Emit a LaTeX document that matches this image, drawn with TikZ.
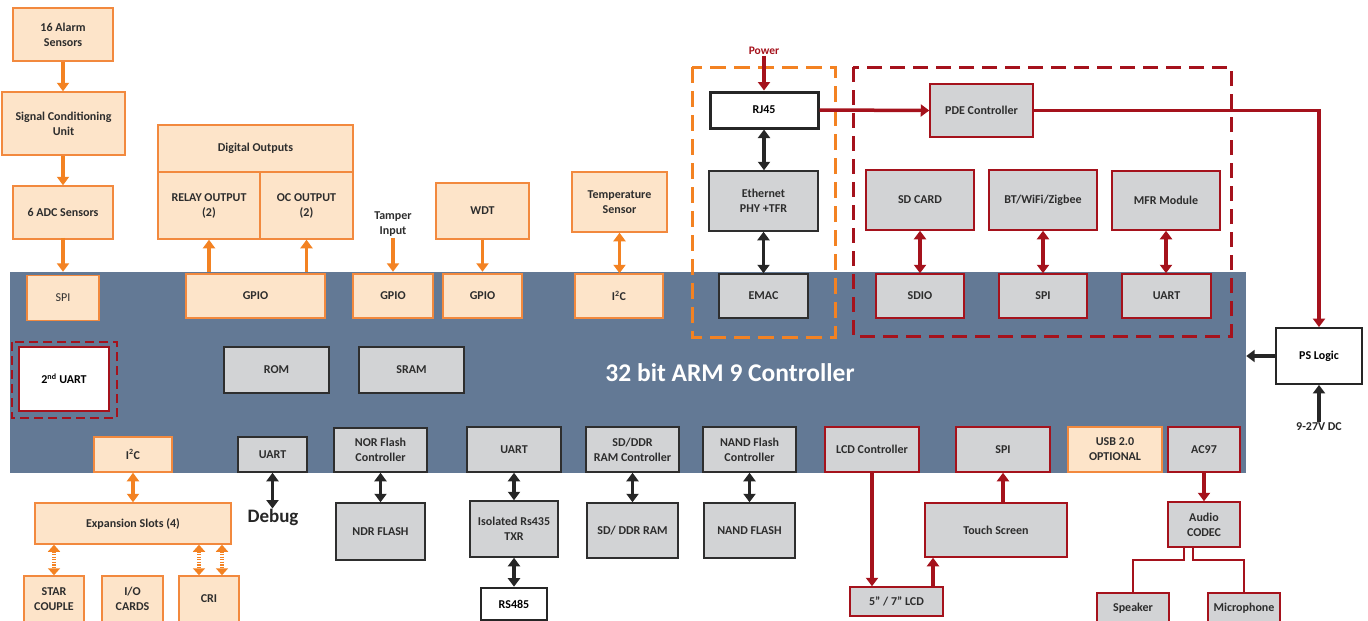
\documentclass[tikz,border=0pt]{standalone}
\usepackage{fontspec}
\setmainfont{Carlito}
\usetikzlibrary{arrows.meta}
\definecolor{orgF}{RGB}{253,228,201}
\definecolor{orgD}{RGB}{242,137,62}
\definecolor{orgA}{RGB}{243,130,34}
\definecolor{grayF}{RGB}{210,211,213}
\definecolor{redD}{RGB}{165,18,28}
\definecolor{cpuB}{RGB}{99,121,149}
\definecolor{txt}{RGB}{45,45,45}
\tikzset{
  bx/.style={rectangle, inner sep=0pt, align=center, text=txt,
    font=\fontsize{12}{15}\selectfont\bfseries},
  sz/.style 2 args={minimum width=#1pt, minimum height=#2pt},
  obox/.style={bx, draw=orgD, fill=orgF, line width=1.5pt},
  gbox/.style={bx, draw=black!82, fill=grayF, line width=1.5pt},
  rbox/.style={bx, draw=redD, fill=grayF, line width=1.5pt},
  wbox/.style={bx, draw=black!85, fill=white, line width=3pt, text=black},
  lbl/.style={inner sep=1pt, align=center, text=txt, font=\fontsize{12}{15}\selectfont\bfseries},
  tip/.tip={Triangle[width=12pt,length=8.5pt]},
  oarr/.style={draw=orgA, line width=3.5pt, -tip},
  oarrb/.style={draw=orgA, line width=3.5pt, tip-tip},
  odot/.style={draw=orgA, line width=4pt, dash pattern=on 1.3pt off 1.3pt,
    {Triangle[width=12pt,length=7pt]}-{Triangle[width=12pt,length=7pt]}},
  barr/.style={draw=black!85, line width=3.5pt, -tip},
  barrb/.style={draw=black!85, line width=3.5pt, tip-tip},
  rarr/.style={draw=redD, line width=3.5pt, -tip},
  rarrb/.style={draw=redD, line width=3.5pt, tip-tip},
  rline/.style={draw=redD, line width=2pt},
  odash/.style={draw=orgA, line width=3pt, dash pattern=on 16pt off 8pt},
  rdash/.style={draw=redD, line width=3pt, dash pattern=on 15pt off 8pt},
  rdashs/.style={draw=redD, line width=2.2pt, dash pattern=on 9pt off 5pt},
}
\begin{document}
\begin{tikzpicture}[x=1pt,y=-1pt]
\useasboundingbox (0,0) rectangle (1368,621);
\clip (0,0) rectangle (1368,621);

% main controller
\node[rectangle, fill=cpuB, inner sep=0pt, sz={1236}{201}] (cpu) at (628,372.5) {};
\node[font=\fontsize{25.5}{28}\selectfont\bfseries, text=white] (title) at (730,373) {32 bit ARM 9 Controller};

% dashed groups
\draw[odash] (692,67) rectangle (835,337);
\draw[rdash] (853,67) rectangle (1231,336);
\draw[rdashs] (12,342) rectangle (117,418);

% left sensor chain
\node[obox, sz={100}{53}] (alarm) at (63,34.5) {16 Alarm\\Sensors};
\node[obox, sz={123}{63}] (sig) at (63.5,123.5) {Signal Conditioning\\Unit};
\node[obox, sz={100}{53}] (adc) at (63,212.5) {6 ADC Sensors};
\node[obox, sz={72}{45}, font=\fontsize{12}{15}\selectfont] (spi1) at (63,298) {SPI};

% digital outputs
\node[obox, sz={195}{47}] (digout) at (255.5,148.5) {Digital Outputs};
\node[obox, sz={102}{67}] (relay) at (209,205.5) {RELAY OUTPUT\\(2)};
\node[obox, sz={93}{67}] (oc) at (306.5,205.5) {OC OUTPUT\\(2)};
\node[obox, sz={139}{44}] (gpio1) at (255.5,296) {GPIO};
\node[obox, sz={80}{44}] (gpio2) at (393,296) {GPIO};
\node[obox, sz={79}{44}] (gpio3) at (482.5,296) {GPIO};
\node[obox, sz={93}{56}] (wdt) at (482.5,211) {WDT};
\node[lbl] (tamper) at (393,224) {Tamper\\Input};
\node[obox, sz={95}{60}] (temp) at (619.5,202) {Temperature\\Sensor};
\node[obox, sz={88}{44}] (i2c1) at (619,296) {I\textsuperscript{2}C};

% ethernet group
\node[lbl, text=redD, font=\fontsize{11.5}{13}\selectfont\bfseries] (power) at (764,51) {Power};
\node[wbox, sz={108}{36}] (rj45) at (764,110) {RJ45};
\node[gbox, sz={109}{60}] (eth) at (763.5,201) {Ethernet\\PHY +TFR};
\node[gbox, sz={89}{44}] (emac) at (763.5,296) {EMAC};

% red group
\node[rbox, sz={103}{53}] (pde) at (981.5,110.5) {PDE Controller};
\node[rbox, sz={108}{60}] (sdcard) at (920,200) {SD CARD};
\node[rbox, sz={108}{60}] (bt) at (1043,200) {BT/WiFi/Zigbee};
\node[rbox, sz={108}{59}] (mfr) at (1166,200.5) {MFR Module};
\node[rbox, sz={88}{44}] (sdio) at (920,296) {SDIO};
\node[rbox, sz={88}{44}] (spi2) at (1043,296) {SPI};
\node[rbox, sz={89}{44}] (uart3) at (1166.5,296) {UART};

% power logic
\node[bx, draw=black!85, fill=white, line width=1.8pt, text=black, sz={86}{56}] (ps) at (1319,356) {PS Logic};
\node[lbl, text=black!85] (dc) at (1319,427) {9-27V DC};

% inner blocks
\node[bx, draw=redD, fill=white, line width=2pt, text=black, sz={90}{64}] (uart2nd) at (64,379) {2\textsuperscript{nd} UART};
\node[gbox, sz={105}{46}] (rom) at (276.5,370) {ROM};
\node[gbox, sz={105}{46}] (sram) at (411.5,370) {SRAM};

% bottom row
\node[obox, sz={78}{35}] (i2c2) at (133,454.5) {I\textsuperscript{2}C};
\node[obox, sz={196}{41}] (exp) at (133,523.5) {Expansion Slots (4)};
\node[obox, sz={60}{46}] (star) at (54,599) {STAR\\COUPLE};
\node[obox, sz={61}{46}] (io) at (132.5,599) {I/O\\CARDS};
\node[obox, sz={60}{46}] (cri) at (209,599) {CRI};

\node[gbox, sz={69}{35}] (uartd) at (272.5,454.5) {UART};
\node[inner sep=0pt, text=black!85, font=\fontsize{19}{21}\selectfont\bfseries] (debug) at (273,517) {Debug};
\node[gbox, sz={93}{44}] (norc) at (380.5,450) {NOR Flash\\Controller};
\node[gbox, sz={89}{57}] (ndr) at (380.5,531.5) {NDR FLASH};
\node[gbox, sz={94}{45}] (uartb) at (514,449.5) {UART};
\node[gbox, sz={88}{56}] (iso) at (514,529) {Isolated Rs435\\TXR};
\node[wbox, line width=2.6pt, sz={66}{32}] (rs485) at (514,604) {RS485};
\node[gbox, sz={93}{45}] (sdc) at (632.5,449.5) {SD/DDR\\RAM Controller};
\node[gbox, sz={91}{55}] (sdr) at (632.5,530.5) {SD/ DDR RAM};
\node[gbox, sz={93}{45}] (nandc) at (749.5,449.5) {NAND Flash\\Controller};
\node[gbox, sz={91}{55}] (nand) at (749.5,530.5) {NAND FLASH};

\node[rbox, sz={94}{45}] (lcdc) at (872,449.5) {LCD Controller};
\node[rbox, sz={94}{45}] (spi3) at (1003,449.5) {SPI};
\node[obox, sz={94}{45}] (usb) at (1115,449.5) {USB 2.0\\OPTIONAL};
\node[rbox, sz={72}{45}] (ac97) at (1204,449.5) {AC97};
\node[rbox, sz={142}{54}] (touch) at (996,530) {Touch Screen};
\node[rbox, sz={93}{29}] (lcd) at (896.5,601.5) {5” / 7” LCD};
\node[rbox, sz={72}{45}] (codec) at (1204,524.5) {Audio\\CODEC};
\node[rbox, sz={72}{30}] (speaker) at (1133,608) {Speaker};
\node[rbox, sz={72}{30}] (mic) at (1244,608) {Microphone};

% helper coordinates
\coordinate (x199) at (199,0);
\coordinate (x222) at (222,0);
\coordinate (x933) at (933,0);
\coordinate (cl1) at (1184,0);
\coordinate (cl2) at (1193,0);
\coordinate (ysplit) at (0,560);

% orange connectors
\draw[oarr] (alarm.south) -- (alarm.south |- sig.north);
\draw[oarr] (adc.north |- sig.south) -- (adc.north);
\draw[oarr] ([yshift=2pt]adc.south) -- (cpu.north -| adc.south);
\draw[oarr] (relay.south |- cpu.north) -- (relay.south);
\draw[oarr] (oc.south |- cpu.north) -- (oc.south);
\draw[oarr] (tamper.south) -- (tamper.south |- cpu.north);
\draw[oarr] (wdt.south) -- (wdt.south |- cpu.north);
\draw[oarrb] (temp.south) -- (temp.south |- i2c1.north);
\draw[oarrb] (i2c2.south) -- (exp.north);
\draw[odot] (star.north |- exp.south) -- (star.north);
\draw[odot] (x199 |- exp.south) -- (x199 |- cri.north);
\draw[odot] (x222 |- exp.south) -- (x222 |- cri.north);

% black connectors
\draw[barrb] (rj45.south) -- (rj45.south |- eth.north);
\draw[barrb] (eth.south) -- (emac.north);
\draw[barrb] (uartd.south) -- (uartd.south |- debug.north);
\draw[barrb] (norc.south) -- (ndr.north);
\draw[barrb] (uartb.south) -- (iso.north);
\draw[barrb] (iso.south) -- (rs485.north);
\draw[barrb] (sdc.south) -- (sdr.north);
\draw[barrb] (nandc.south) -- (nand.north);
\draw[barr] (ps.west) -- (ps.west -| cpu.east);
\draw[barr] (dc.north) -- (ps.south);

% red connectors
\draw[rarr] (power.south) -- (rj45.north);
\draw[rarr] (rj45.east) -- (pde.west);
\draw[rarr] (pde.east) -| (ps.north);
\draw[rarrb] (sdcard.south) -- (sdio.north);
\draw[rarrb] (bt.south) -- (spi2.north);
\draw[rarrb] (mfr.south) -- (mfr.south |- uart3.north);
\draw[rarr] (lcdc.south) -- (lcdc.south |- lcd.north);
\draw[rarr] (x933 |- lcd.north) -- (x933 |- touch.south);
\draw[rarr] (spi3.south |- touch.north) -- (spi3.south);
\draw[rarr] (ac97.south) -- (codec.north);
\draw[rline] (cl1 |- codec.south) -- (cl1 |- ysplit) -| (speaker.north);
\draw[rline] (cl2 |- codec.south) -- (cl2 |- ysplit) -| (mic.north);
\end{tikzpicture}
\end{document}
